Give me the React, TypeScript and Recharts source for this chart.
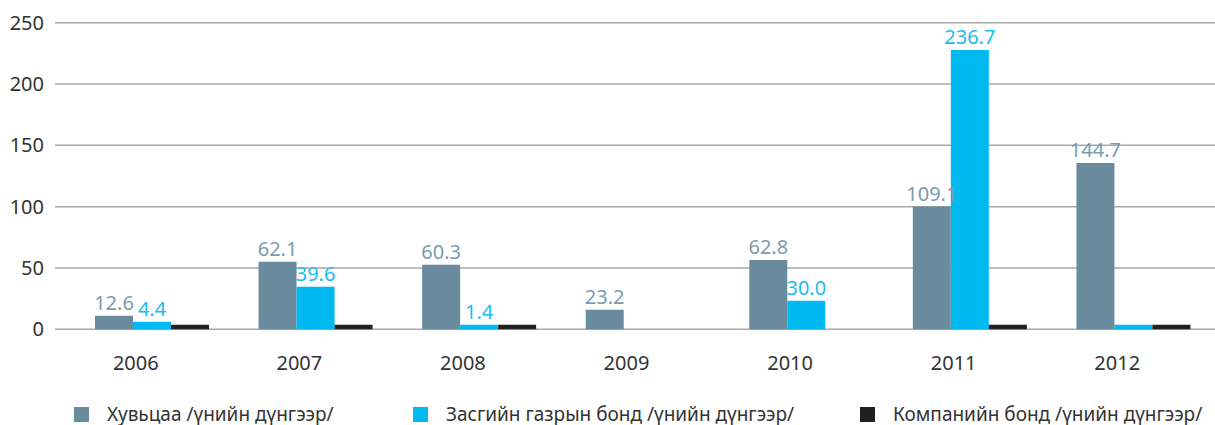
import React from "react";
import { BarChart, Bar, XAxis, YAxis, CartesianGrid, LabelList } from "recharts";

// years on the x axis
const years = ["2006", "2007", "2008", "2009", "2010", "2011", "2012"];

// bar heights as drawn in the picture
const stockBars = [11.0, 55.0, 52.6, 15.9, 56.6, 100.1, 135.7];
const govBondBars = [6.1, 34.6, 3.7, null, 23.2, 227.8, 3.7];
const corpBondBars = [3.7, 3.7, 3.7, null, null, 3.7, 3.7];

// value labels printed above the bars
const stockLabels = ["12.6", "62.1", "60.3", "23.2", "62.8", "109.1", "144.7"];
const govBondLabels = ["4.4", "39.6", "1.4", null, "30.0", "236.7", null];

const yTicks = [0, 50, 100, 150, 200, 250];

const seriesNames = [
  "Хувьцаа /үнийн дүнгээр/",
  "Засгийн газрын бонд /үнийн дүнгээр/",
  "Компанийн бонд /үнийн дүнгээр/",
];

const GREY = "#6a8b9e";
const BLUE = "#00b9f0";
const BLACK = "#231f20";
const FONT = "'Noto Sans', sans-serif";

const data = years.map((year, i) => ({
  year,
  stock: stockBars[i],
  govBond: govBondBars[i],
  corpBond: corpBondBars[i],
  stockLabel: stockLabels[i],
  govBondLabel: govBondLabels[i],
}));

function makeLabel(color: string) {
  return (props: any) => {
    const { x, y, width, value } = props;
    if (value == null) return null;
    return (
      <text
        x={Number(x) + Number(width) / 2}
        y={Number(y) - 6}
        textAnchor="middle"
        fill={color}
        fontSize={20}
        fontFamily={FONT}
      >
        {value}
      </text>
    );
  };
}

// legend items sit at fixed spots like in the original layout
const legendLeft = [74, 413, 860];
const legendColors = [GREY, BLUE, BLACK];

export default function App() {
  return (
    <div style={{ position: "absolute", left: 0, top: 0, width: 1215, height: 425 }}>
      <BarChart
        width={1215}
        height={425}
        data={data}
        margin={{ top: 22.7, right: 0, bottom: 45.7, left: 0 }}
        barSize={38}
        barGap={0}
      >
        <CartesianGrid vertical={false} stroke="#a8a8a8" strokeWidth={1.5} />
        <XAxis
          dataKey="year"
          axisLine={false}
          tickLine={false}
          tickSize={0}
          tickMargin={26}
          height={50}
          padding={{ left: 15, right: 0 }}
          tick={{ fill: "#333", fontSize: 20, fontFamily: FONT, dx: -16 }}
        />
        <YAxis
          domain={[0, 250]}
          ticks={yTicks}
          width={55}
          axisLine={false}
          tickLine={false}
          tickSize={0}
          tickMargin={11}
          tick={{ fill: "#333", fontSize: 20, fontFamily: FONT }}
        />
        <Bar dataKey="stock" fill={GREY} isAnimationActive={false}>
          <LabelList dataKey="stockLabel" content={makeLabel("#7b9bb0")} />
        </Bar>
        <Bar dataKey="govBond" fill={BLUE} isAnimationActive={false}>
          <LabelList dataKey="govBondLabel" content={makeLabel("#1bbcf0")} />
        </Bar>
        <Bar dataKey="corpBond" fill={BLACK} isAnimationActive={false} />
      </BarChart>
      {seriesNames.map((name, i) => (
        <div
          key={name}
          style={{
            position: "absolute",
            left: legendLeft[i],
            top: 403,
            display: "flex",
            alignItems: "center",
            fontFamily: FONT,
            fontSize: 19,
            color: "#333",
            whiteSpace: "nowrap",
            height: 22,
          }}
        >
          <span style={{ width: 15, height: 15, background: legendColors[i], marginRight: 18, display: "inline-block" }} />
          <span>{name}</span>
        </div>
      ))}
    </div>
  );
}
